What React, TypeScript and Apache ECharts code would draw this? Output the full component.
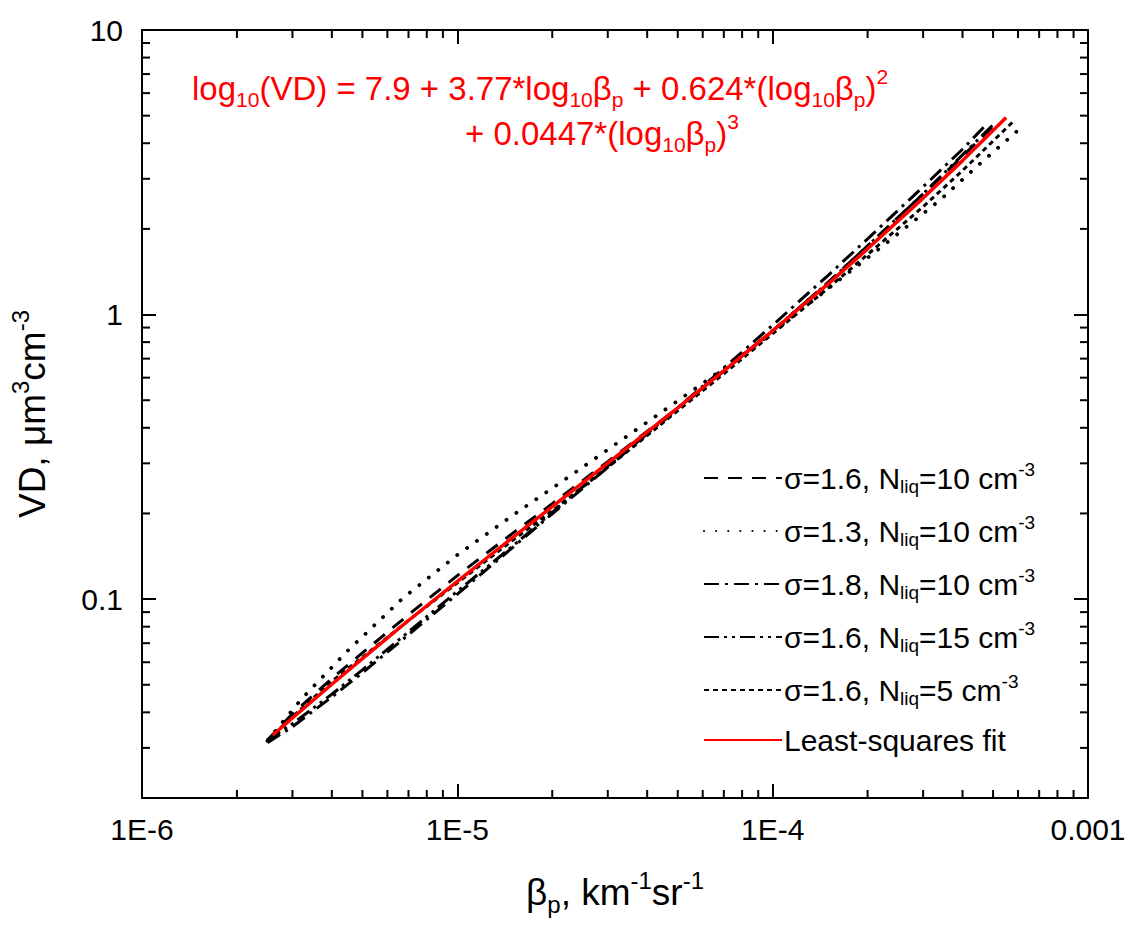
import React, { useEffect, useRef } from 'react';
import * as echarts from 'echarts';

const FONT = '"Liberation Sans", Arial, Helvetica, sans-serif';

// Axis ranges and tick labels
const X_MIN = 1e-6;
const X_MAX = 1e-3;
const Y_MIN = 0.02;
const Y_MAX = 10;
const xTickValues = [1e-6, 1e-5, 1e-4, 1e-3];
const xTickLabels = ['1E-6', '1E-5', '1E-4', '0.001'];
const yTickValues = [0.1, 1, 10];
const yTickLabels = ['0.1', '1', '10'];

// Series names
const seriesNames = [
  'σ=1.6, Nliq=10 cm-3',
  'σ=1.3, Nliq=10 cm-3',
  'σ=1.8, Nliq=10 cm-3',
  'σ=1.6, Nliq=15 cm-3',
  'σ=1.6, Nliq=5 cm-3',
  'Least-squares fit',
];
const legendRich = [
  '{t|σ=1.6, N}{sub|liq}{t|=10 cm}{sup|-3}',
  '{t|σ=1.3, N}{sub|liq}{t|=10 cm}{sup|-3}',
  '{t|σ=1.8, N}{sub|liq}{t|=10 cm}{sup|-3}',
  '{t|σ=1.6, N}{sub|liq}{t|=15 cm}{sup|-3}',
  '{t|σ=1.6, N}{sub|liq}{t|=5 cm}{sup|-3}',
  '{t|Least-squares fit}',
];

// σ=1.6, Nliq=10 (dashed)
const betaS16N10 = [2.5e-6, 3e-6, 4e-6, 5e-6, 7e-6, 1e-5, 1.5e-5, 2e-5, 3e-5, 5e-5, 7e-5, 1e-4, 1.5e-4, 2e-4, 3e-4, 4e-4, 5.2e-4];
const vdS16N10 = [0.032, 0.0395, 0.0526, 0.0647, 0.0881, 0.1209, 0.1706, 0.2163, 0.3041, 0.4699, 0.6339, 0.877, 1.297, 1.742, 2.655, 3.597, 4.8];

// σ=1.3, Nliq=10 (dotted)
const betaS13N10 = [2.5e-6, 3.2e-6, 4.5e-6, 6.7e-6, 1e-5, 1.5e-5, 2.5e-5, 3.6e-5, 6e-5, 8.6e-5, 1.3e-4, 2.2e-4, 3.4e-4, 4.5e-4, 6.15e-4];
const vdS13N10 = [0.0318, 0.0445, 0.066, 0.1005, 0.143, 0.197, 0.291, 0.386, 0.573, 0.762, 1.09, 1.72, 2.53, 3.36, 4.55];

// σ=1.8, Nliq=10 (dash-dot)
const betaS18N10 = [2.5e-6, 3e-6, 4e-6, 5e-6, 7e-6, 1e-5, 1.5e-5, 2e-5, 3e-5, 5e-5, 7e-5, 1e-4, 1.5e-4, 2e-4, 3e-4, 4e-4, 4.8e-4];
const vdS18N10 = [0.0313, 0.0356, 0.0453, 0.0551, 0.075, 0.1041, 0.1521, 0.1995, 0.2904, 0.47, 0.6486, 0.918, 1.374, 1.845, 2.812, 3.811, 4.7];

// σ=1.6, Nliq=15 (dash-dot-dot)
const betaS16N15 = [2.5e-6, 3e-6, 4e-6, 5e-6, 7e-6, 1e-5, 1.5e-5, 2e-5, 3e-5, 5e-5, 7e-5, 1e-4, 1.5e-4, 2e-4, 3e-4, 4e-4, 5e-4];
const vdS16N15 = [0.032, 0.0365, 0.0463, 0.0564, 0.0767, 0.1065, 0.1538, 0.2018, 0.2938, 0.4645, 0.6339, 0.877, 1.297, 1.742, 2.655, 3.639, 4.645];

// σ=1.6, Nliq=5 (short dash)
const betaS16N5 = [2.5e-6, 3e-6, 4e-6, 5e-6, 7e-6, 1e-5, 1.5e-5, 2e-5, 3e-5, 5e-5, 7e-5, 1e-4, 1.5e-4, 2e-4, 3e-4, 4e-4, 5.8e-4];
const vdS16N5 = [0.032, 0.0386, 0.0514, 0.0625, 0.0841, 0.1141, 0.1611, 0.2042, 0.2904, 0.4592, 0.6194, 0.857, 1.239, 1.626, 2.393, 3.206, 4.775];

// Least-squares fit (red)
const betaFit = [2.6e-6, 3e-6, 4e-6, 5e-6, 7e-6, 1e-5, 1.5e-5, 2e-5, 3e-5, 5e-5, 7e-5, 1e-4, 1.5e-4, 2e-4, 3e-4, 4e-4, 5.5e-4];
const vdFit = [0.0333, 0.0382, 0.0502, 0.0618, 0.0841, 0.1155, 0.1648, 0.2113, 0.3006, 0.47, 0.634, 0.877, 1.282, 1.702, 2.566, 3.475, 4.93];

const zip = (a: number[], b: number[]) => a.map((v, i) => [v, b[i]]);

const labelFor = (vals: number[], labels: string[]) => (v: number) => {
  const i = vals.findIndex((t) => Math.abs(Math.log10(t) - Math.log10(v)) < 1e-6);
  return i >= 0 ? labels[i] : '';
};

const eqLine1 =
  '{b|log}{sub|10}{b|(VD) = 7.9 + 3.77*log}{sub|10}{b|β}{sub|p}{b| + 0.624*(log}{sub|10}{b|β}{sub|p}{b|)}{sup|2}';
const eqLine2 = '{b|+ 0.0447*(log}{sub|10}{b|β}{sub|p}{b|)}{sup|3}';

export default function App() {
  const ref = useRef<HTMLDivElement>(null);

  useEffect(() => {
    if (!ref.current) return;
    const chart = echarts.init(ref.current, undefined, { renderer: 'svg' });

    const eqRich = {
      b: { fontSize: 33, lineHeight: 44, fontFamily: FONT, fill: '#ff0000' },
      sub: { fontSize: 21, lineHeight: 21, verticalAlign: 'bottom', fontFamily: FONT, fill: '#ff0000' },
      sup: { fontSize: 21, lineHeight: 21, verticalAlign: 'top', fontFamily: FONT, fill: '#ff0000' },
    };
    const textGraphics: any[] = [
      { type: 'text', left: 192, top: 66, z: 10, style: { text: eqLine1, rich: eqRich, fill: '#ff0000', font: `33px ${FONT}` } },
      { type: 'text', left: 465, top: 111, z: 10, style: { text: eqLine2, rich: eqRich, fill: '#ff0000', font: `33px ${FONT}` } },
    ];

    const axisLine = { show: true, onZero: false, lineStyle: { color: '#000', width: 2 } };
    const axisTick = { show: true, inside: true, length: 14, lineStyle: { color: '#000', width: 2 } };
    const nameRich = {
      b: { fontSize: 37, lineHeight: 48, fontFamily: FONT, color: '#000' },
      sub: { fontSize: 24, lineHeight: 24, verticalAlign: 'bottom', fontFamily: FONT, color: '#000' },
      sup: { fontSize: 24, lineHeight: 24, verticalAlign: 'top', fontFamily: FONT, color: '#000' },
    };

    const lineSeries = (name: string, b: number[], v: number[], type: any, width: number, cap = 'butt', color = '#000', z = 2) => ({
      type: 'line',
      name,
      data: zip(b, v),
      symbol: 'none',
      showSymbol: false,
      silent: true,
      z,
      lineStyle: { color, width, type, cap },
      itemStyle: { color },
    });

    const option: any = {
      animation: false,
      backgroundColor: '#fff',
      grid: { left: 139, top: 30, right: 41, bottom: 130, containLabel: false },
      xAxis: [
        {
          type: 'log', logBase: 10, min: X_MIN, max: X_MAX, position: 'bottom',
          axisLine, axisTick,
          splitLine: { show: false }, minorTick: { show: false },
          axisLabel: { formatter: labelFor(xTickValues, xTickLabels), fontSize: 30, fontFamily: FONT, color: '#000', margin: 16 },
          name: '{b|β}{sub|p}{b|, km}{sup|-1}{b|sr}{sup|-1}',
          nameLocation: 'middle', nameGap: 70,
          nameTextStyle: { rich: nameRich },
        },
        {
          type: 'log', logBase: 10, min: X_MIN, max: X_MAX, position: 'top',
          axisLine, axisTick, splitLine: { show: false }, axisLabel: { show: false },
        },
      ],
      yAxis: [
        {
          type: 'log', logBase: 10, min: Y_MIN, max: Y_MAX, position: 'left',
          axisLine, axisTick,
          splitLine: { show: false },
          axisLabel: { formatter: labelFor(yTickValues, yTickLabels), fontSize: 30, fontFamily: FONT, color: '#000', margin: 19, showMinLabel: false },
          name: '{b|VD, μm}{sup|3}{b|cm}{sup|-3}',
          nameLocation: 'middle', nameGap: 86, nameRotate: 90,
          nameTextStyle: { rich: nameRich },
        },
        {
          type: 'log', logBase: 10, min: Y_MIN, max: Y_MAX, position: 'right',
          axisLine, axisTick, splitLine: { show: false }, axisLabel: { show: false },
        },
      ],
      legend: {
        orient: 'vertical',
        left: 698,
        top: 455,
        itemWidth: 78,
        itemHeight: 14,
        itemGap: 17,
        selectedMode: false,
        itemStyle: { opacity: 0 },
        data: seriesNames,
        formatter: (name: string) => legendRich[seriesNames.indexOf(name)],
        textStyle: {
          color: '#000',
          fontFamily: FONT,
          fontSize: 30,
          padding: [0, 0, 0, -3],
          rich: {
            t: { fontSize: 30, lineHeight: 36, fontFamily: FONT, color: '#000' },
            sub: { fontSize: 19, lineHeight: 19, verticalAlign: 'bottom', fontFamily: FONT, color: '#000' },
            sup: { fontSize: 19, lineHeight: 19, verticalAlign: 'top', fontFamily: FONT, color: '#000' },
          },
        },
      },
      series: [
        lineSeries(seriesNames[0], betaS16N10, vdS16N10, [14, 10], 3),
        lineSeries(seriesNames[1], betaS13N10, vdS13N10, [0.1, 12], 3.8, 'round'),
        lineSeries(seriesNames[2], betaS18N10, vdS18N10, [15, 6, 3, 6], 3),
        lineSeries(seriesNames[3], betaS16N15, vdS16N15, [15, 5, 3, 5, 3, 5], 3),
        lineSeries(seriesNames[4], betaS16N5, vdS16N5, [5, 4], 3),
        lineSeries(seriesNames[5], betaFit, vdFit, 'solid', 3.5, 'butt', '#ff0000', 5),
      ],
      graphic: { elements: textGraphics },
    };

    chart.setOption(option);

    // Minor ticks (2..9 within each decade), inward on all four sides
    const xPix = (v: number) => chart.convertToPixel({ xAxisIndex: 0 }, v) as number;
    const yPix = (v: number) => chart.convertToPixel({ yAxisIndex: 0 }, v) as number;
    const left = xPix(X_MIN);
    const right = xPix(X_MAX);
    const bottom = yPix(Y_MIN);
    const top = yPix(Y_MAX);
    const minorLen = 8;
    const st = { stroke: '#000', lineWidth: 2 };
    const ticks: any[] = [];
    for (let e = -6; e <= -4; e++) {
      for (let m = 2; m <= 9; m++) {
        const v = m * Math.pow(10, e);
        const px = xPix(v);
        ticks.push({ type: 'line', silent: true, z: 20, shape: { x1: px, y1: bottom, x2: px, y2: bottom - minorLen }, style: st });
        ticks.push({ type: 'line', silent: true, z: 20, shape: { x1: px, y1: top, x2: px, y2: top + minorLen }, style: st });
      }
    }
    for (let e = -2; e <= 0; e++) {
      for (let m = 2; m <= 9; m++) {
        const v = m * Math.pow(10, e);
        if (v <= Y_MIN * 1.0001 || v >= Y_MAX) continue;
        const py = yPix(v);
        ticks.push({ type: 'line', silent: true, z: 20, shape: { x1: left, y1: py, x2: left + minorLen, y2: py }, style: st });
        ticks.push({ type: 'line', silent: true, z: 20, shape: { x1: right, y1: py, x2: right - minorLen, y2: py }, style: st });
      }
    }
    chart.setOption({ graphic: { elements: [...textGraphics, ...ticks] } });

    return () => chart.dispose();
  }, []);

  return (
    <div
      ref={ref}
      style={{ position: 'absolute', left: 0, top: 0, width: 1129, height: 928, background: '#fff' }}
    />
  );
}
